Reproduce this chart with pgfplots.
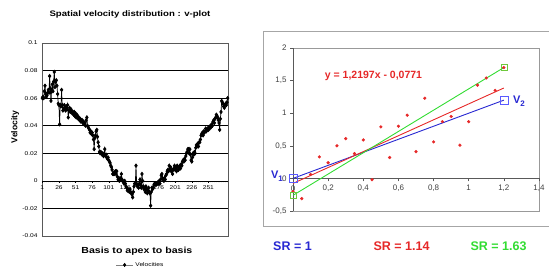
\documentclass[border=0pt]{standalone}
\usepackage{pgfplots}
\usepackage{pgfplotstable}
\pgfplotsset{compat=1.18}
\usepackage{fontspec}
\setmainfont{Liberation Sans}
\newfontfamily\lsf[FakeStretch=1.2]{Liberation Sans}
\definecolor{cblue}{RGB}{40,40,210}
\definecolor{cred}{RGB}{230,40,40}
\definecolor{cgreen}{RGB}{50,220,50}
\definecolor{sqblue}{RGB}{90,90,255}
\definecolor{sqgreen}{RGB}{110,200,60}
\pgfplotstableread[row sep=\\]{
v\\
0.060\\0.061\\0.060\\0.065\\0.069\\0.063\\0.061\\0.062\\0.064\\0.066\\
0.064\\0.076\\0.067\\0.058\\0.066\\0.070\\0.065\\0.072\\0.079\\0.068\\
0.072\\0.073\\0.069\\0.063\\0.056\\0.055\\0.041\\0.055\\0.054\\0.066\\
0.055\\0.051\\0.052\\0.055\\0.053\\0.051\\0.054\\0.052\\0.055\\0.046\\
0.051\\0.053\\0.050\\0.052\\0.051\\0.049\\0.050\\0.048\\0.050\\0.047\\
0.049\\0.046\\0.048\\0.047\\0.045\\0.046\\0.044\\0.045\\0.043\\0.044\\
0.044\\0.042\\0.043\\0.041\\0.042\\0.040\\0.044\\0.046\\0.040\\0.039\\
0.038\\0.037\\0.035\\0.036\\0.034\\0.035\\0.033\\0.030\\0.023\\0.031\\
0.033\\0.036\\0.037\\0.032\\0.028\\0.025\\0.021\\0.020\\0.021\\0.020\\
0.019\\0.020\\0.018\\0.019\\0.023\\0.018\\0.019\\0.017\\0.016\\0.017\\
0.015\\0.014\\0.013\\0.011\\0.010\\0.008\\0.005\\0.005\\0.006\\0.005\\
0.007\\0.005\\0.007\\0.003\\0.001\\0.001\\0.000\\0.002\\0.001\\0.005\\
0.001\\0.000\\-0.001\\-0.002\\0.000\\-0.002\\-0.004\\-0.005\\-0.007\\-0.006\\
-0.007\\-0.008\\-0.006\\-0.008\\-0.009\\-0.010\\-0.012\\-0.008\\-0.004\\-0.002\\
-0.002\\0.011\\-0.002\\-0.004\\-0.003\\-0.005\\-0.002\\0.001\\-0.003\\-0.005\\
0.005\\0.000\\-0.004\\-0.006\\-0.005\\-0.008\\-0.004\\-0.006\\-0.009\\-0.007\\
-0.005\\-0.008\\-0.009\\-0.018\\-0.008\\-0.005\\-0.006\\-0.005\\-0.003\\-0.002\\
-0.002\\-0.003\\-0.002\\-0.002\\-0.001\\-0.002\\0.000\\-0.002\\0.001\\0.004\\
0.005\\0.002\\0.001\\0.000\\0.002\\0.001\\0.004\\0.005\\0.007\\0.008\\
0.007\\0.011\\0.008\\0.010\\0.007\\0.008\\0.005\\0.008\\0.009\\0.011\\
0.008\\0.010\\0.007\\0.011\\0.010\\0.008\\0.010\\0.011\\0.009\\0.012\\
0.011\\0.014\\0.015\\0.014\\0.016\\0.015\\0.018\\0.020\\0.021\\0.023\\
0.023\\0.020\\0.023\\0.019\\0.015\\0.014\\0.017\\0.020\\0.019\\0.021\\
0.020\\0.024\\0.026\\0.025\\0.027\\0.025\\0.028\\0.028\\0.030\\0.033\\
0.034\\0.035\\0.033\\0.036\\0.035\\0.036\\0.038\\0.036\\0.037\\0.038\\
0.037\\0.039\\0.038\\0.040\\0.039\\0.041\\0.040\\0.043\\0.044\\0.042\\
0.045\\0.046\\0.048\\0.047\\0.046\\0.044\\0.042\\0.037\\0.045\\0.050\\
0.058\\0.057\\0.056\\0.054\\0.053\\0.055\\0.056\\0.055\\0.057\\0.060\\
}\veltable
\begin{document}
\begin{tikzpicture}
\useasboundingbox (0pt,0pt) rectangle (549pt,273pt);
% ---------------- left chart ----------------
\begin{axis}[
  at={(42pt,37pt)}, anchor=south west,
  scale only axis, width=186pt, height=193pt,
  xmin=0.5, xmax=280.5, ymin=-0.04, ymax=0.1,
  xtick=\empty,
  ytick={-0.04,-0.02,0,0.02,0.04,0.06,0.08,0.1},
  yticklabels={-0.04,-0.02,0,0.02,0.04,0.06,0.08,0.1},
  major tick length=0pt,
  ymajorgrids, grid style={black, line width=0.5pt},
  axis line style={black!65, line width=0.6pt},
  tick label style={font=\lsf\fontsize{5.5}{6}\selectfont},
  yticklabel style={xshift=-1pt},
  title={Spatial velocity distribution : v-plot},
  title style={font=\lsf\fontsize{8}{9}\selectfont\bfseries, at={(axis description cs:0.473,1.115)}, anchor=center, yshift=0pt},
  xlabel={Basis to apex to basis},
  xlabel style={font=\lsf\fontsize{8.8}{10}\selectfont\bfseries, at={(axis description cs:0.51,-0.078)}, anchor=center},
  ylabel={Velocity},
  ylabel style={font=\fontsize{8.6}{10}\selectfont\bfseries, at={(axis description cs:-0.145,0.565)}, anchor=center},
  legend style={at={(axis description cs:0.53,-0.15)}, anchor=center, draw=none, fill=none, font=\lsf\fontsize{5.5}{6}\selectfont},
]
\addlegendimage{gray, line width=0.6pt, mark=diamond*, mark options={black}, mark size=1.6pt}
\addlegendentry{Velocities}
\addplot[black, line width=0.7pt, mark=diamond*, mark size=1.7pt, forget plot] table[x expr=\coordindex+1, y=v] {\veltable};
\end{axis}
\begin{axis}[
  at={(42pt,37pt)}, anchor=south west,
  scale only axis, width=186pt, height=193pt,
  xmin=0.5, xmax=280.5, ymin=-0.04, ymax=0.1,
  axis x line*=middle, axis y line=none,
  x axis line style={black, line width=0.5pt},
  xtick={1,26,51,76,101,126,151,176,201,226,251},
  xticklabels={1,26,51,76,101,126,151,176,201,226,251},
  minor xtick={1,4,...,280},
  tick align=outside, major tick length=2pt, minor tick length=1.5pt,
  tick style={black, line width=0.4pt},
  xticklabel style={font=\lsf\fontsize{5.5}{6}\selectfont, yshift=1pt},
]
\end{axis}
% ---------------- right chart ----------------
\draw[black!35, line width=1pt] (263pt,241pt) rectangle (553pt,46pt);
\begin{axis}[
  at={(293pt,62pt)}, anchor=south west,
  scale only axis, width=246pt, height=163pt,
  xmin=0, xmax=1.4, ymin=-0.5, ymax=2, ticks=none,
  axis line style={black!40, line width=0.6pt},
]
\end{axis}
\begin{axis}[
  at={(293pt,62pt)}, anchor=south west,
  scale only axis, width=246pt, height=163pt,
  xmin=0, xmax=1.4, ymin=-0.5, ymax=2, clip=false,
  axis x line*=middle, axis y line*=left,
  axis line style={black!65, line width=0.6pt},
  xtick={0,0.2,0.4,0.6,0.8,1,1.2,1.4},
  xticklabels={0,{0,2},{0,4},{0,6},{0,8},1,{1,2},{1,4}},
  ytick={-0.5,0,0.5,1,1.5,2},
  yticklabels={{-0,5},0,{0,5},1,{1,5},2},
  tick align=outside, major tick length=3pt,
  tick style={black!65, line width=0.5pt},
  tick label style={font=\fontsize{8}{9}\selectfont, text=black!75},
]
\addplot[only marks, mark=*, mark size=1.4pt, cred] coordinates {
(0,-0.2) (0.05,-0.31) (0.1,0.06) (0.15,0.33) (0.2,0.24) (0.25,0.5) (0.3,0.61)
(0.35,0.38) (0.4,0.59) (0.45,-0.02) (0.5,0.79) (0.55,0.32) (0.6,0.8) (0.65,0.97)
(0.7,0.41) (0.75,1.23) (0.8,0.56) (0.85,0.87) (0.9,0.95) (0.95,0.51) (1.0,0.87)
(1.05,1.43) (1.1,1.54) (1.15,1.35) (1.2,1.7)};
\addplot[cblue, line width=0.9pt] coordinates {(0,0) (1.2,1.2)};
\addplot[cred, line width=0.9pt] coordinates {(0,-0.0771) (1.2,1.3865)};
\addplot[cgreen, line width=0.9pt] coordinates {(0,-0.26) (1.2,1.7)};
\addplot[only marks, mark=square, mark size=4pt, sqblue, line width=0.6pt] coordinates {(0,0) (1.2,1.2)};
\addplot[only marks, mark=square, mark size=3pt, sqgreen, line width=0.6pt] coordinates {(0,-0.26) (1.2,1.7)};
\node[font=\fontsize{8}{9}\selectfont, text=black!75, anchor=north] at (axis cs:0,0) [yshift=-4pt] {0};
\node[cred, font=\fontsize{10.5}{12}\selectfont\bfseries] at (axis cs:0.458,1.565) {y = 1,2197x - 0,0771};
\node[cblue, font=\fontsize{11}{12}\selectfont\bfseries, anchor=east, inner sep=0pt] at (axis cs:0,0.03) [xshift=-10pt] {V\raisebox{-2.5pt}{\fontsize{8}{9}\selectfont 1}};
\node[cblue, font=\fontsize{11}{12}\selectfont\bfseries, anchor=west, inner sep=0pt] at (axis cs:1.2,1.18) [xshift=9pt] {V\raisebox{-2.5pt}{\fontsize{8}{9}\selectfont 2}};
\end{axis}
\node[cblue, font=\fontsize{12.5}{14}\selectfont\bfseries] at (292.5pt,27pt) {SR = 1};
\node[cred, font=\fontsize{12.5}{14}\selectfont\bfseries] at (401.5pt,27pt) {SR = 1.14};
\node[cgreen, font=\fontsize{12.5}{14}\selectfont\bfseries] at (498.5pt,27pt) {SR = 1.63};
\end{tikzpicture}
\end{document}
